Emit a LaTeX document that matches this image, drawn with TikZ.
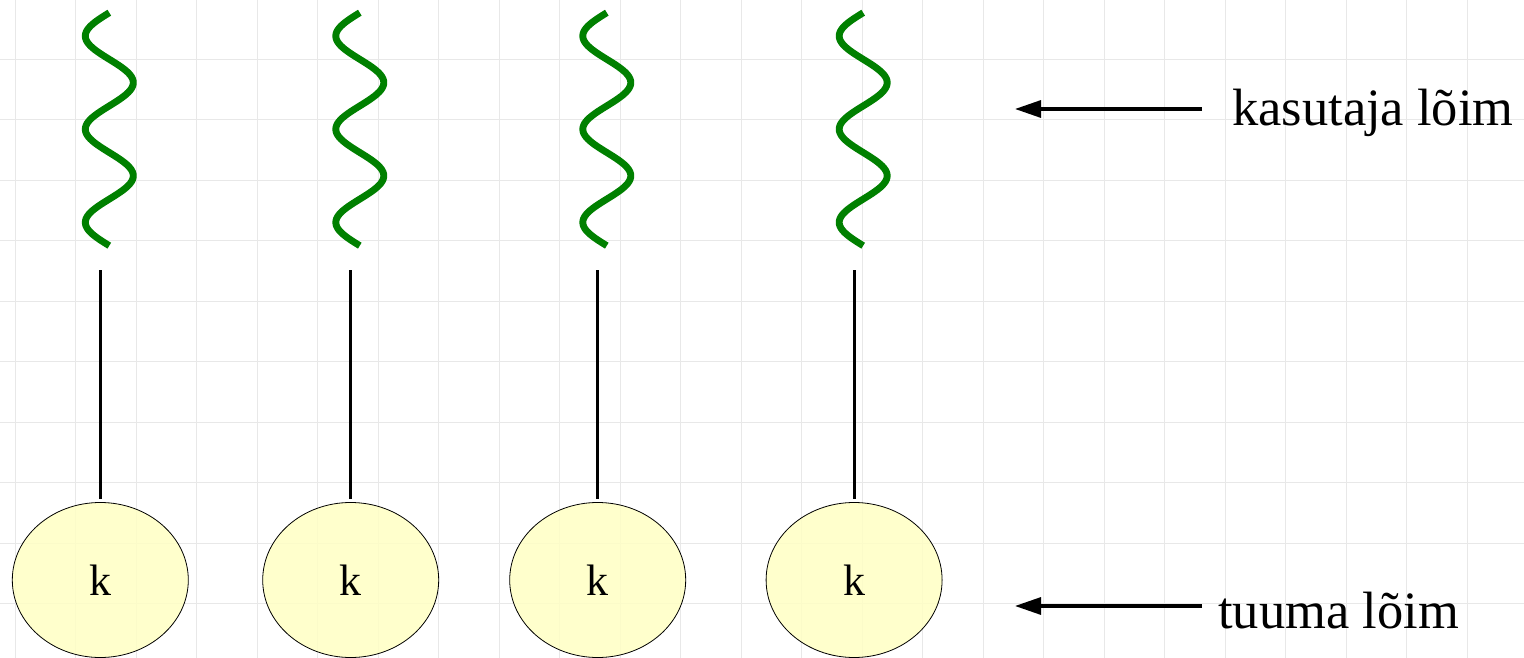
\documentclass[tikz,border=0pt]{standalone}
\usepackage{fontspec}
\setmainfont{Liberation Serif}
\usetikzlibrary{shapes.geometric,arrows.meta}
\definecolor{gridline}{RGB}{232,232,232}
\definecolor{threadgreen}{RGB}{0,128,0}
\definecolor{kernelfill}{RGB}{255,255,196}
\begin{document}
\begin{tikzpicture}[x=1pt,y=-1pt,
  gridrule/.style={draw=gridline,line width=1pt},
  userthread/.style={draw=threadgreen,line width=6.9pt,line cap=butt,line join=round},
  kthread/.style={ellipse,draw=black,line width=0.8pt,fill=kernelfill,fill opacity=0.85,text opacity=1,
    minimum width=176pt,minimum height=155pt,inner sep=0pt,font=\fontsize{44}{50}\selectfont},
  link/.style={draw=black,line width=3pt,shorten >=3.5pt},
  pointer/.style={draw=black,line width=3.2pt,-{Triangle[length=26pt,width=17pt]}},
  caption/.style={anchor=base west,inner sep=0pt,font=\fontsize{52.5}{60}\selectfont}]
\useasboundingbox (0,0) rectangle (1524,658);
\fill[white] (0,0) rectangle (1524,658);
% background grid
\foreach \gx in {0,...,24} \draw[gridrule] ({15+60.5*\gx},0) -- ({15+60.5*\gx},658);
\foreach \gy in {1,...,11} \draw[gridrule] (0,{-1.2+60.5*\gy}) -- (1524,{-1.2+60.5*\gy});

% user threads (waves), kernel threads (ellipses) and the links between them
\foreach \i/\cx/\wx in {1/100.3/109.3, 2/350.7/359.8, 3/597.7/606.8, 4/854.1/863.2} {
  \draw[userthread] plot[domain=0:10,samples=121,smooth] ({\wx-24*sin(90*\x)},{12.7+23.3*\x});
  \node[kthread] (k\i) at (\cx,580) {k};
  \coordinate (top\i) at (\cx,270);
  \draw[link] (top\i) -- (k\i.north);
}

% captions with pointers
\node[caption] (user) at (1232,126) {kasutaja lõim};
\node[caption] (kern) at (1218,628.3) {tuuma lõim};
\coordinate (usertail) at (1202,109);
\coordinate (userhead) at (1015,109);
\coordinate (kerntail) at (1202,606);
\coordinate (kernhead) at (1015,606);
\draw[pointer] (usertail) -- (userhead);
\draw[pointer] (kerntail) -- (kernhead);
\end{tikzpicture}
\end{document}
